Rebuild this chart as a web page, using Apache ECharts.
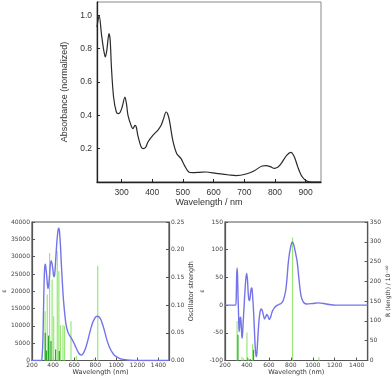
<!DOCTYPE html>
<html>
<head>
<meta charset="utf-8">
<script src="https://cdn.jsdelivr.net/npm/echarts@6/dist/echarts.min.js"></script>
<style>
  html, body { margin: 0; padding: 0; background: #fff; }
  #chart { width: 392px; height: 379px; }
</style>
</head>
<body>
<div id="chart"></div>
<script>
// top: measured absorbance
const absWl  = [220, 227, 235, 242, 247, 252, 259, 263, 267, 274, 283, 290, 296, 302, 311, 316, 321, 331, 337, 344, 348, 353, 364, 372, 379, 386, 402, 418, 429, 437, 445, 450, 456, 467, 480, 494, 505, 519, 532, 555, 575, 608, 651, 673, 706, 733, 758, 771, 785, 798, 810, 820, 838, 852, 863, 874, 885, 896, 906, 920, 950];
const absVal = [0.93, 1.0, 0.88, 0.79, 0.75, 0.79, 0.89, 0.85, 0.69, 0.51, 0.42, 0.41, 0.42, 0.45, 0.51, 0.47, 0.40, 0.34, 0.32, 0.34, 0.33, 0.28, 0.21, 0.20, 0.21, 0.24, 0.28, 0.31, 0.34, 0.38, 0.42, 0.41, 0.37, 0.25, 0.17, 0.14, 0.10, 0.06, 0.056, 0.058, 0.060, 0.052, 0.042, 0.038, 0.048, 0.068, 0.096, 0.098, 0.092, 0.082, 0.09, 0.11, 0.16, 0.178, 0.152, 0.092, 0.042, 0.016, 0.004, 0, 0];
const absTicksX = [300, 400, 500, 600, 700, 800, 900];
const absTicksY = [0.2, 0.4, 0.6, 0.8, 1.0];

// bottom left: calculated epsilon + oscillator strengths
const epsWl  = [200, 280, 291, 297, 303, 309, 315, 321, 327, 333, 339, 346, 352, 359, 367, 374, 382, 390, 397, 405, 412, 418, 424, 432, 439, 446, 452, 457, 461, 467, 473, 480, 488, 495, 503, 513, 524, 540, 555, 570, 585, 600, 615, 630, 645, 658, 670, 685, 700, 715, 730, 745, 761, 776, 791, 806, 821, 836, 852, 867, 882, 897, 912, 927, 942, 960, 979, 1000, 1024, 1050, 1085, 1130, 1176, 1500];
const epsVal = [0, 0, 0, 1500, 5300, 14000, 22700, 27000, 27800, 26500, 24700, 22000, 20800, 22000, 24700, 27500, 28800, 28000, 26600, 24500, 24200, 25800, 28600, 32500, 35300, 37300, 38200, 38000, 37300, 34800, 31500, 27000, 22700, 19000, 16000, 12800, 10200, 8300, 7300, 6600, 5800, 4900, 3900, 2900, 2100, 1700, 1600, 2000, 2900, 4200, 5800, 7700, 9500, 11000, 11900, 12600, 12800, 12600, 11900, 10700, 9200, 7500, 5800, 4500, 3400, 2400, 1600, 1100, 700, 400, 200, 80, 0, 0];
const oscWl  = [324, 345, 367, 391, 406, 440, 455, 470, 494, 509, 570, 621, 785, 824];
const oscF   = [0.089, 0.119, 0.194, 0.146, 0.08, 0.197, 0.161, 0.064, 0.064, 0.062, 0.071, 0.008, 0.003, 0.171];
const oscWlDark = [326, 338, 357, 380, 424, 459];
const oscFDark  = [0.05, 0.018, 0.045, 0.035, 0.02, 0.017];

// bottom right: calculated CD + rotatory strengths
const cdWl  = [200, 298, 303, 306, 310, 314, 319, 324, 328, 333, 338, 343, 349, 355, 359, 366, 373, 382, 390, 398, 405, 412, 418, 424, 432, 440, 446, 452, 460, 468, 476, 484, 490, 499, 507, 514, 522, 530, 540, 550, 560, 570, 580, 592, 604, 615, 625, 634, 650, 670, 690, 710, 730, 752, 765, 775, 785, 796, 806, 813, 825, 840, 858, 875, 890, 903, 920, 947, 1000, 1050, 1100, 1150, 1213, 1500];
const cdVal = [0, 0, 20, 50, 67, 55, 15, -20, -48, -40, -23, -22, -40, -60, -55, -30, -5, 25, 48, 57, 45, 20, 10, 8, 20, 31, 30, 15, -10, -45, -78, -93, -88, -60, -35, -20, -10, -7, -10, -18, -25, -22, -17, -20, -26, -22, -15, -10, -5, -1, 1, 3, 8, 25, 48, 73, 90, 103, 111, 114, 110, 97, 78, 45, 20, 10, 4, 2, 3, 4, 3, 1, 0, 0];
const rotWl  = [310, 355, 370, 400, 415, 451, 815, 1056];
const rotR   = [100, 9, 5, 71, 6, 41, 311, 8];
const rotWlDark = [318, 430, 460];
const rotRDark  = [65, 4, 27];

const wlTicks = [200, 400, 600, 800, 1000, 1200, 1400];

const zip = (a, b) => a.map((v, i) => [v, b[i]]);
const plain = v => String(v);

const chart = echarts.init(document.getElementById('chart'), null, { renderer: 'canvas' });

const small = { fontFamily: 'DejaVu Sans', fontSize: 6, color: '#444' };
const big = { fontFamily: 'Liberation Sans', fontSize: 8.5, color: '#333' };
const frame = { lineStyle: { color: '#555', width: 1.2 } };

function stick(params, api) {
    const x = api.value(0);
    const p0 = api.coord([x, 0]);
    const p1 = api.coord([x, api.value(1)]);
    return {
        type: 'rect',
        shape: { x: p0[0] - 0.6, y: p1[1], width: 1.2, height: p0[1] - p1[1] },
        style: { fill: api.visual('color') }
    };
}

chart.setOption({
    animation: false,
    grid: [
        { left: 97, top: 2, width: 224, height: 180, show: true, borderColor: '#888', borderWidth: 1 },
        { left: 26, top: 222, width: 143, height: 138.5, show: true, borderColor: '#555', borderWidth: 1.2 },
        { left: 225, top: 222, width: 145, height: 138.5, show: true, borderColor: '#555', borderWidth: 1.2 }
    ],
    xAxis: [
        {
            gridIndex: 0, type: 'value', min: 220, max: 950,
            name: 'Wavelength / nm', nameLocation: 'middle', nameGap: 12,
            nameTextStyle: { fontFamily: 'Liberation Sans', fontSize: 9, color: '#333' },
            axisLine: { onZero: false, lineStyle: { color: '#222', width: 1.3 } },
            axisTick: { inside: true, length: 3, customValues: absTicksX, lineStyle: { color: '#222' } },
            axisLabel: { ...big, margin: 6, customValues: absTicksX, formatter: plain },
            splitLine: { show: false }
        },
        {
            gridIndex: 1, type: 'value', min: 200, max: 1500,
            name: 'Wavelength (nm)', nameLocation: 'middle', nameGap: 7,
            nameTextStyle: { fontFamily: 'DejaVu Sans', fontSize: 6.5, color: '#333' },
            axisLine: { onZero: false, ...frame },
            axisTick: { inside: true, length: 3, customValues: wlTicks, lineStyle: { color: '#555' } },
            axisLabel: { ...small, margin: 1.5, customValues: wlTicks, formatter: plain },
            splitLine: { show: false }
        },
        {
            gridIndex: 2, type: 'value', min: 200, max: 1500,
            name: 'Wavelength (nm)', nameLocation: 'middle', nameGap: 7,
            nameTextStyle: { fontFamily: 'DejaVu Sans', fontSize: 6.5, color: '#333' },
            axisLine: { onZero: false, ...frame },
            axisTick: { inside: true, length: 3, customValues: wlTicks, lineStyle: { color: '#555' } },
            axisLabel: { ...small, margin: 1.5, customValues: wlTicks, formatter: plain },
            splitLine: { show: false }
        }
    ],
    yAxis: [
        {
            gridIndex: 0, type: 'value', min: 0, max: 1.08,
            name: 'Absorbance (normalized)', nameLocation: 'middle', nameGap: 16, nameRotate: 90,
            nameTextStyle: { fontFamily: 'Liberation Sans', fontSize: 9, color: '#333' },
            axisLine: { show: true, lineStyle: { color: '#222', width: 1.3 } },
            axisTick: { inside: true, length: 3, customValues: absTicksY, lineStyle: { color: '#222' } },
            axisLabel: { ...big, margin: 5, customValues: absTicksY, formatter: v => v.toFixed(1) },
            splitLine: { show: false }
        },
        {
            gridIndex: 1, type: 'value', min: 0, max: 40000, interval: 5000, position: 'left',
            name: 'ε', nameLocation: 'middle', nameGap: 20, nameRotate: 90,
            nameTextStyle: { fontFamily: 'DejaVu Sans', fontSize: 6, color: '#333' },
            axisLine: { show: true, ...frame },
            axisTick: { inside: true, length: 3, lineStyle: { color: '#555' } },
            axisLabel: { ...small, margin: 2, formatter: plain },
            splitLine: { show: false }
        },
        {
            gridIndex: 1, type: 'value', min: 0, max: 0.25, interval: 0.05, position: 'right',
            name: 'Oscillator strength', nameLocation: 'middle', nameGap: 16, nameRotate: 90,
            nameTextStyle: { fontFamily: 'DejaVu Sans', fontSize: 6.5, color: '#333' },
            axisLine: { show: true, ...frame },
            axisTick: { inside: true, length: 3, lineStyle: { color: '#555' } },
            axisLabel: { ...small, margin: 2, formatter: v => v.toFixed(2) },
            splitLine: { show: false }
        },
        {
            gridIndex: 2, type: 'value', min: -100, max: 150, interval: 50, position: 'left',
            name: 'ε', nameLocation: 'middle', nameGap: 18, nameRotate: 90,
            nameTextStyle: { fontFamily: 'DejaVu Sans', fontSize: 6, color: '#333' },
            axisLine: { show: true, onZero: false, ...frame },
            axisTick: { inside: true, length: 3, lineStyle: { color: '#555' } },
            axisLabel: { ...small, margin: 2, formatter: plain },
            splitLine: { show: false }
        },
        {
            gridIndex: 2, type: 'value', min: 0, max: 350, interval: 50, position: 'right',
            name: 'R (length) / 10⁻⁴⁰', nameLocation: 'middle', nameGap: 13, nameRotate: 90,
            nameTextStyle: { fontFamily: 'DejaVu Sans', fontSize: 6, color: '#333' },
            axisLine: { show: true, ...frame },
            axisTick: { inside: true, length: 3, lineStyle: { color: '#555' } },
            axisLabel: { ...small, margin: 2, formatter: plain },
            splitLine: { show: false }
        }
    ],
    series: [
        {
            type: 'line', xAxisIndex: 0, yAxisIndex: 0,
            data: zip(absWl, absVal), smooth: 0.3, symbol: 'none',
            lineStyle: { color: '#2a2a2a', width: 1.2 }
        },
        {
            type: 'custom', xAxisIndex: 1, yAxisIndex: 2, renderItem: stick,
            data: zip(oscWl, oscF), itemStyle: { color: '#98e878' }, z: 2
        },
        {
            type: 'custom', xAxisIndex: 1, yAxisIndex: 2, renderItem: stick,
            data: zip(oscWlDark, oscFDark), itemStyle: { color: '#2aa82a' }, z: 3
        },
        {
            type: 'line', xAxisIndex: 1, yAxisIndex: 1,
            data: zip(epsWl, epsVal), smooth: 0.3, symbol: 'none',
            lineStyle: { color: '#7474ea', width: 1.4 }, z: 4
        },
        {
            type: 'custom', xAxisIndex: 2, yAxisIndex: 4, renderItem: stick,
            data: zip(rotWl, rotR), itemStyle: { color: '#98e878' }, z: 2
        },
        {
            type: 'custom', xAxisIndex: 2, yAxisIndex: 4, renderItem: stick,
            data: zip(rotWlDark, rotRDark), itemStyle: { color: '#2aa82a' }, z: 3
        },
        {
            type: 'line', xAxisIndex: 2, yAxisIndex: 3,
            data: zip(cdWl, cdVal), smooth: 0.3, symbol: 'none',
            lineStyle: { color: '#7474ea', width: 1.4 }, z: 4
        }
    ]
});
</script>
</body>
</html>
